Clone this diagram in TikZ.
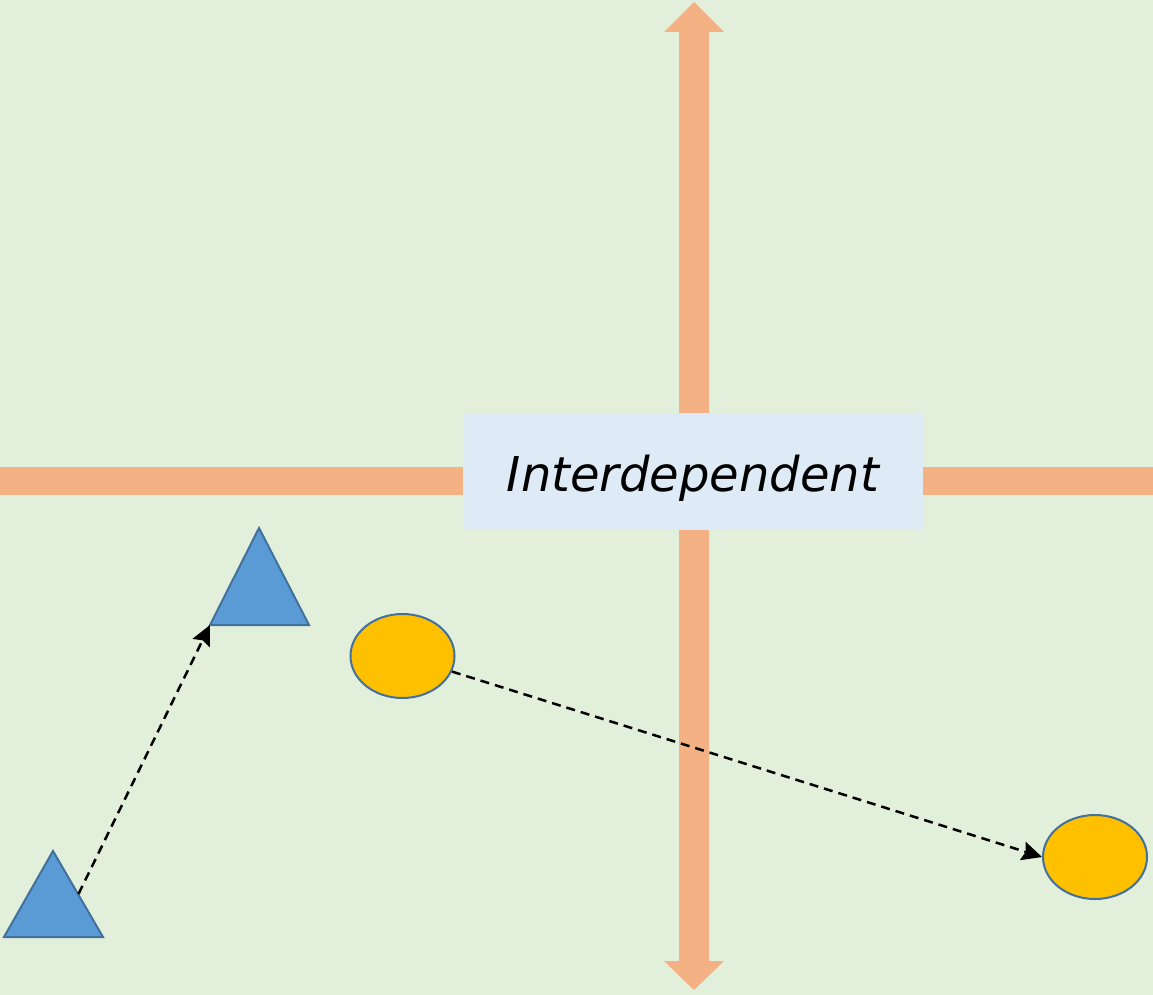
\documentclass[tikz,border=0pt]{standalone}
\usepackage{fontspec}
\newfontfamily\labelfont{DejaVu Sans}
\usetikzlibrary{shapes.geometric,arrows.meta}
\definecolor{bggreen}{HTML}{E2EFDA}
\definecolor{axisorange}{HTML}{F4B183}
\definecolor{labelblue}{HTML}{DEEAF6}
\definecolor{shapeblue}{HTML}{5B9BD5}
\definecolor{strokeblue}{HTML}{41719C}
\definecolor{gold}{HTML}{FFC000}
\tikzset{
  axisshape/.style={fill=axisorange,draw=none},
  tri/.style={fill=shapeblue,draw=strokeblue,line width=2pt,line join=miter},
  blob/.style={ellipse,fill=gold,draw=strokeblue,line width=2pt,minimum width=104pt,minimum height=84pt,inner sep=0pt},
  link/.style={draw=black,line width=2.5pt,dash pattern=on 9pt off 6pt,-{Stealth[length=20pt,width=19pt,inset=3pt]}},
  labelbox/.style={fill=labelblue,draw=none,minimum width=460pt,minimum height=117pt,inner sep=0pt,text height=39pt,text depth=0pt,font=\labelfont\itshape\fontsize{48}{58}\selectfont}
}
\begin{document}
\begin{tikzpicture}[x=1pt,y=-1pt]
\useasboundingbox (0,0) rectangle (1153,995);
\fill[bggreen] (0,0) rectangle (1153,995);
% horizontal axis
\path[axisshape] (0,467) rectangle (1153,495);
% vertical double arrow
\path[axisshape] (694,2) -- (724,32) -- (709,32) -- (709,961) -- (724,961) -- (694,990)
  -- (664,961) -- (679,961) -- (679,32) -- (664,32) -- cycle;
% label
\node[labelbox] (lbl) at (693,471.5) {Interdependent};
% triangles
\draw[tri] (259,528) -- (309,625) -- (210,625) -- cycle;
\draw[tri] (53,851) -- (103,937) -- (4,937) -- cycle;
\coordinate (triAcorner) at (210,625);
\coordinate (triBside) at (78.5,894);
% ellipses
\node[blob] (e1) at (402.5,656) {};
\node[blob] (e2) at (1095,857) {};
% connectors
\draw[link] (triBside) -- (triAcorner);
\draw[link] (e1) -- (e2.west);
\end{tikzpicture}
\end{document}
